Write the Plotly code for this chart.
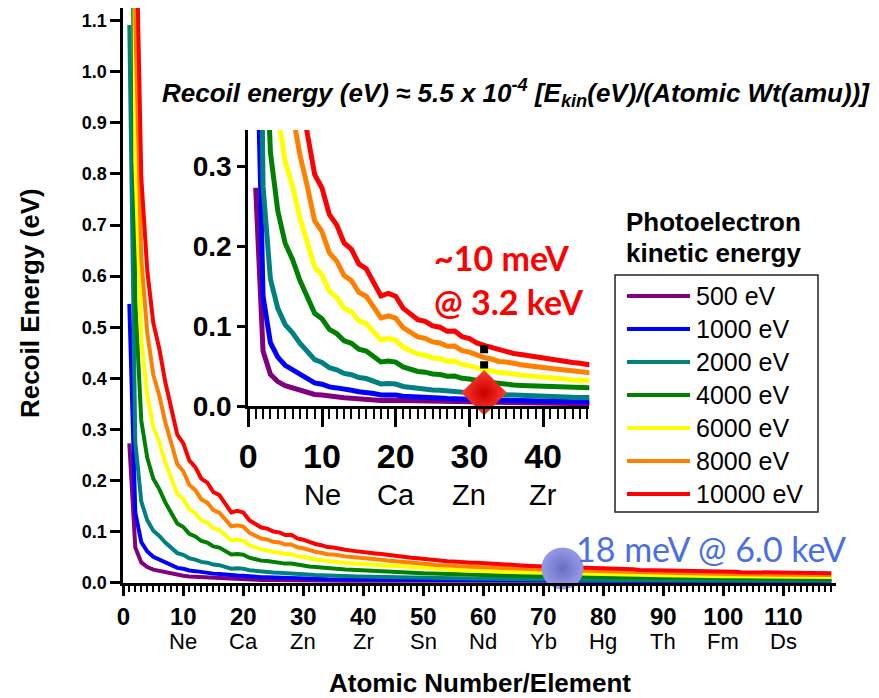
import plotly.graph_objects as go

W, H = 879, 698

# ---------------- data ----------------
atomic_numbers = list(range(1, 119))
atomic_weights = [
    1.008, 4.0026, 6.94, 9.0122, 10.81, 12.011, 14.007, 15.999, 18.998, 20.180,
    22.990, 24.305, 26.982, 28.085, 30.974, 32.06, 35.45, 39.948, 39.098, 40.078,
    44.956, 47.867, 50.942, 51.996, 54.938, 55.845, 58.933, 58.693, 63.546, 65.38,
    69.723, 72.630, 74.922, 78.971, 79.904, 83.798, 85.468, 87.62, 88.906, 91.224,
    92.906, 95.95, 98.0, 101.07, 102.91, 106.42, 107.87, 112.41, 114.82, 118.71,
    121.76, 127.60, 126.90, 131.29, 132.91, 137.33, 138.91, 140.12, 140.91, 144.24,
    145.0, 150.36, 151.96, 157.25, 158.93, 162.50, 164.93, 167.26, 168.93, 173.05,
    174.97, 178.49, 180.95, 183.84, 186.21, 190.23, 192.22, 195.08, 196.97, 200.59,
    204.38, 207.2, 208.98, 209.0, 210.0, 222.0, 223.0, 226.0, 227.0, 232.04,
    231.04, 238.03, 237.0, 244.0, 243.0, 247.0, 247.0, 251.0, 252.0, 257.0,
    258.0, 259.0, 266.0, 267.0, 268.0, 269.0, 270.0, 277.0, 278.0, 281.0,
    282.0, 285.0, 286.0, 289.0, 290.0, 293.0, 294.0, 294.0,
]
energies_eV = [500, 1000, 2000, 4000, 6000, 8000, 10000]
series_colors = ["#800080", "#0000ff", "#008080", "#008000", "#ffff00", "#ff8000", "#ff0000"]
legend_labels = [f"{e} eV" for e in energies_eV]
recoil_coeff = 5.5e-4  # from the chart's own formula

main_x_ticks = [0, 10, 20, 30, 40, 50, 60, 70, 80, 90, 100, 110]
main_x_elements = ["", "Ne", "Ca", "Zn", "Zr", "Sn", "Nd", "Yb", "Hg", "Th", "Fm", "Ds"]
main_y_ticks = [0.0, 0.1, 0.2, 0.3, 0.4, 0.5, 0.6, 0.7, 0.8, 0.9, 1.0, 1.1]
inset_x_ticks = [0, 10, 20, 30, 40]
inset_x_elements = ["", "Ne", "Ca", "Zn", "Zr"]
inset_y_ticks = [0.0, 0.1, 0.2, 0.3]

diamond_point = (32.0, 0.0166)
diamond_bar = ([32.0, 32.0], [0.076, 0.047])
sphere_point = (73.2, 0.028)

# ---------------- helpers ----------------
def fx(px):
    return px / W

def fy(py):
    return 1 - py / H

ARIAL = "Liberation Sans, Arial, sans-serif"
NARROW = "Liberation Sans Narrow, Arial Narrow, Liberation Sans, Arial, sans-serif"
CAL = "Lato, Open Sans, sans-serif"

fig = go.Figure()

for e, c, lab in zip(energies_eV, series_colors, legend_labels):
    rec = [recoil_coeff * e / a for a in atomic_weights]
    fig.add_trace(go.Scatter(x=atomic_numbers, y=rec, mode="lines", name=lab,
                             line=dict(color=c, width=4), xaxis="x", yaxis="y",
                             showlegend=False, hoverinfo="skip"))
for e, c, lab in zip(energies_eV, series_colors, legend_labels):
    rec = [recoil_coeff * e / a for a in atomic_weights]
    fig.add_trace(go.Scatter(x=atomic_numbers, y=rec, mode="lines", name=lab,
                             line=dict(color=c, width=5), xaxis="x2", yaxis="y2",
                             showlegend=False, hoverinfo="skip"))

# dotted black bar and red diamond in the inset
fig.add_trace(go.Scatter(x=diamond_bar[0], y=diamond_bar[1], mode="lines",
                         line=dict(color="black", width=8, dash="8px,8px"),
                         xaxis="x2", yaxis="y2", showlegend=False))
fig.add_trace(go.Scatter(x=[diamond_point[0]], y=[diamond_point[1]], mode="markers",
                         marker=dict(symbol="diamond", size=35, color="#ff3b2b",
                                     gradient=dict(type="radial", color="#c80000"),
                                     line=dict(width=0)),
                         xaxis="x2", yaxis="y2", showlegend=False, cliponaxis=False))
# blue sphere in the main plot
fig.add_trace(go.Scatter(x=[sphere_point[0]], y=[sphere_point[1]], mode="markers",
                         marker=dict(symbol="circle", size=42, color="#969ae6",
                                     gradient=dict(type="radial", color="#6b6fc4"),
                                     line=dict(width=0)),
                         xaxis="x", yaxis="y", showlegend=False, cliponaxis=False))

main_x0, main_ppu = 123.3, 6.0
main_xmax = 118.7
main_y0, main_ppy = 582.7, 511.0
main_ymax = (main_y0 - 8) / main_ppy

in_x0, in_ppu = 248.3, 7.37
in_xmax = (589.3 - in_x0) / in_ppu
in_y0, in_ppy = 406.0, 800.0
in_ymax = (in_y0 - 130) / in_ppy

axis_common = dict(showline=True, linecolor="black", showgrid=False, zeroline=False,
                   ticks="outside", tickcolor="black", fixedrange=True, automargin=False)

fig.update_layout(
    width=W, height=H, margin=dict(l=0, r=0, t=0, b=0, autoexpand=False),
    paper_bgcolor="white", plot_bgcolor="rgba(0,0,0,0)",
    showlegend=False,
    xaxis=dict(domain=[fx(main_x0), fx(main_x0 + main_xmax * main_ppu)], range=[0, main_xmax],
               anchor="y", linewidth=3, ticklen=10, tickwidth=3,
               tickmode="array", tickvals=main_x_ticks, ticktext=[str(v) for v in main_x_ticks],
               tickfont=dict(family=ARIAL, size=24, color="black", weight="bold"),
               minor=dict(tickmode="linear", tick0=0, dtick=1, ticks="outside", ticklen=6,
                          tickwidth=2, tickcolor="black"),
               **axis_common),
    yaxis=dict(domain=[fy(main_y0), fy(8)], range=[0, main_ymax], anchor="x",
               linewidth=3, ticklen=10, tickwidth=3,
               tickmode="array", tickvals=main_y_ticks, ticktext=[f"{v:.1f}" for v in main_y_ticks],
               tickfont=dict(family=ARIAL, size=18, color="black", weight="bold"),
               **axis_common),
    xaxis2=dict(domain=[fx(in_x0), fx(in_x0 + in_xmax * in_ppu)], range=[0, in_xmax],
                anchor="y2", linewidth=3, ticklen=18, tickwidth=3,
                tickmode="array", tickvals=inset_x_ticks, ticktext=[str(v) for v in inset_x_ticks],
                tickfont=dict(family=NARROW, size=34, color="black", weight="bold"),
                minor=dict(tickmode="linear", tick0=0, dtick=1, ticks="outside", ticklen=10,
                           tickwidth=2, tickcolor="black"),
                **axis_common),
    yaxis2=dict(domain=[fy(in_y0), fy(130)], range=[0, in_ymax], anchor="x2",
                linewidth=3, ticklen=8, tickwidth=3,
                tickmode="array", tickvals=inset_y_ticks, ticktext=[f"{v:.1f}" for v in inset_y_ticks],
                tickfont=dict(family=NARROW, size=28, color="black", weight="bold"),
                **axis_common),
)

annotations = []
# element labels under the tick numbers
for v, el in zip(main_x_ticks, main_x_elements):
    if el:
        annotations.append(dict(x=v, y=fy(641), xref="x", yref="paper", text=el, showarrow=False,
                                xanchor="center", yanchor="middle",
                                font=dict(family=NARROW, size=22, color="black")))
for v, el in zip(inset_x_ticks, inset_x_elements):
    if el:
        annotations.append(dict(x=v, y=fy(495), xref="x2", yref="paper", text=el, showarrow=False,
                                xanchor="center", yanchor="middle",
                                font=dict(family=NARROW, size=29, color="black")))

annotations += [
    dict(x=fx(160), y=fy(93), xref="paper", yref="paper", xanchor="left", yanchor="middle",
         showarrow=False,
         text="<b><i>Recoil energy (eV) \u2248 5.5 x 10<sup>-4</sup> [E<sub>kin</sub>(eV)/(Atomic Wt(amu))]</i></b>",
         font=dict(family=ARIAL, size=26, color="black")),
    dict(x=fx(30), y=fy(303), xref="paper", yref="paper", xanchor="center", yanchor="middle",
         showarrow=False, textangle=-90, text="<b>Recoil Energy (eV)</b>",
         font=dict(family=ARIAL, size=26, color="black")),
    dict(x=fx(480), y=fy(683), xref="paper", yref="paper", xanchor="center", yanchor="middle",
         showarrow=False, text="<b>Atomic Number/Element</b>",
         font=dict(family=ARIAL, size=26, color="black")),
    dict(x=fx(432), y=fy(258), xref="paper", yref="paper", xanchor="left", yanchor="middle",
         showarrow=False, text="<b>~10 meV</b>", font=dict(family=CAL, size=34, color="#ff0000")),
    dict(x=fx(432), y=fy(301), xref="paper", yref="paper", xanchor="left", yanchor="middle",
         showarrow=False, text="<b>@ 3.2 keV</b>", font=dict(family=CAL, size=34, color="#ff0000")),
    dict(x=fx(574), y=fy(548), xref="paper", yref="paper", xanchor="left", yanchor="middle",
         showarrow=False, text="18 meV @ 6.0 keV", font=dict(family=CAL, size=34, color="#4a6fe3")),
    dict(x=fx(713), y=fy(222), xref="paper", yref="paper", xanchor="center", yanchor="middle",
         showarrow=False, text="<b>Photoelectron</b>", font=dict(family=ARIAL, size=26, color="black")),
    dict(x=fx(713), y=fy(253), xref="paper", yref="paper", xanchor="center", yanchor="middle",
         showarrow=False, text="<b>kinetic energy</b>", font=dict(family=ARIAL, size=26, color="black")),
]

# legend (box, samples, labels)
shapes = [dict(type="rect", xref="paper", yref="paper", x0=fx(615), x1=fx(818), y0=fy(512), y1=fy(275),
               line=dict(color="#222222", width=1.5), fillcolor="white", layer="below")]
leg_y0, leg_dy = 296, 33.0
for i, (c, lab) in enumerate(zip(series_colors, legend_labels)):
    yy = fy(leg_y0 + i * leg_dy)
    shapes.append(dict(type="line", xref="paper", yref="paper", x0=fx(627), x1=fx(690), y0=yy, y1=yy,
                       line=dict(color=c, width=4)))
    annotations.append(dict(x=fx(694), y=yy, xref="paper", yref="paper", xanchor="left", yanchor="middle",
                            showarrow=False, text=lab, font=dict(family=ARIAL, size=25, color="black")))

fig.update_layout(annotations=annotations, shapes=shapes)
fig.write_html("out.html")
